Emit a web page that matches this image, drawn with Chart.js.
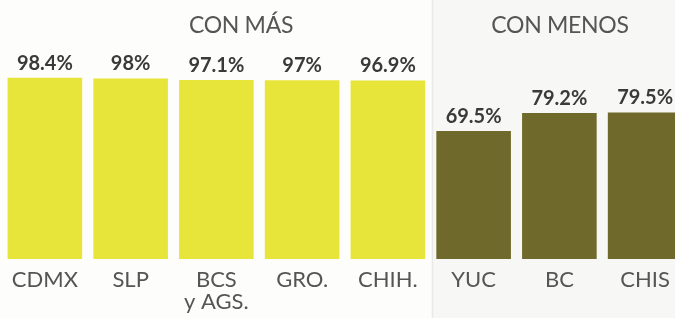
<!DOCTYPE html>
<html>
<head>
<meta charset="utf-8">
<script src="https://cdn.jsdelivr.net/npm/chart.js@4.4.1/dist/chart.umd.min.js"></script>
<style>
  html, body { margin: 0; padding: 0; background: #fdfdfc; overflow: hidden; width: 675px; height: 318px; }
  #wrap { position: relative; width: 675px; height: 318px; overflow: hidden; }
  canvas { position: absolute; left: 0; top: 0; }
  .head { position: absolute; top: 10px; font-family: Lato, sans-serif; font-weight: 400; font-size: 23px; color: #555555; white-space: nowrap; transform: translateX(-50%); letter-spacing: -0.3px; }
</style>
</head>
<body>
<div id="wrap">
  <canvas id="c" width="700" height="318"></canvas>
  <div class="head" style="left:241px">CON MÁS</div>
  <div class="head" style="left:560px">CON MENOS</div>
</div>
<script>
const categories = [["CDMX"], ["SLP"], ["BCS", "y AGS."], ["GRO."], ["CHIH."], ["YUC"], ["BC"], ["CHIS"]];
const groups = ["más", "más", "más", "más", "más", "menos", "menos", "menos"];
const values = [98.4, 98, 97.1, 97, 96.9, 69.5, 79.2, 79.5];

const yellow = "#e8e53a";
const olive = "#6f6a2b";

const panelBg = {
  id: "panelBg",
  beforeDraw(chart) {
    const { ctx, scales: { x } } = chart;
    const split = (x.getPixelForValue(4) + x.getPixelForValue(5)) / 2 + 1;
    ctx.save();
    ctx.fillStyle = "#f7f7f5";
    ctx.fillRect(split, 0, chart.width - split, chart.height);
    ctx.fillStyle = "#e9e9e7";
    ctx.fillRect(split, 0, 1.5, chart.height);
    ctx.restore();
  }
};

const valueLabels = {
  id: "valueLabels",
  afterDatasetsDraw(chart) {
    const { ctx } = chart;
    const meta = chart.getDatasetMeta(0);
    ctx.save();
    ctx.font = "bold 20px Lato, sans-serif";
    ctx.fillStyle = "#3a3a3a";
    ctx.textAlign = "center";
    ctx.textBaseline = "alphabetic";
    meta.data.forEach((bar, i) => {
      ctx.fillText(values[i] + "%", bar.x, bar.y - 8);
    });
    ctx.restore();
  }
};

new Chart(document.getElementById("c"), {
  type: "bar",
  data: {
    labels: categories,
    datasets: [{
      data: values,
      backgroundColor: groups.map(g => g === "más" ? yellow : olive),
      borderWidth: 0,
      categoryPercentage: 1,
      barPercentage: 0.87
    }]
  },
  options: {
    responsive: false,
    animation: false,
    devicePixelRatio: 1,
    layout: { padding: { left: 2, right: 12, top: 1, bottom: 0 } },
    plugins: { legend: { display: false }, tooltip: { enabled: false } },
    scales: {
      y: { display: false, min: 0, max: 140 },
      x: {
        grid: { display: false, drawTicks: false },
        border: { display: false },
        afterFit(scale) { scale.height = 59; },
        ticks: {
          padding: 10,
          color: "#555555",
          font: { family: "Lato, sans-serif", size: 22, weight: "normal", lineHeight: 1.0 }
        }
      }
    }
  },
  plugins: [panelBg, valueLabels]
});
</script>
</body>
</html>
